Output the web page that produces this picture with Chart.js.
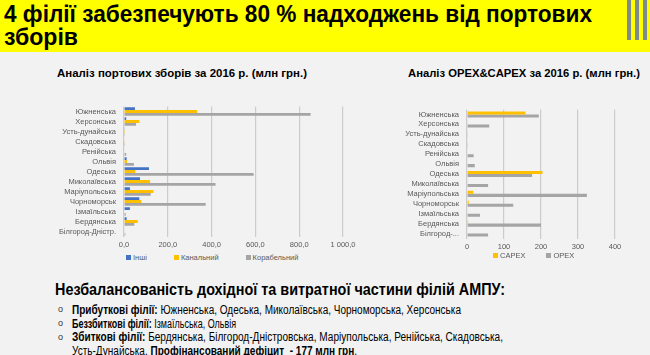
<!DOCTYPE html>
<html>
<head>
<meta charset="utf-8">
<script src="https://cdn.jsdelivr.net/npm/chart.js@4.4.1/dist/chart.umd.min.js"></script>
<style>
  body {
    margin: 0;
    width: 650px;
    height: 355px;
    background: #f2f2f2;
    overflow: hidden;
    position: relative;
    font-family: "Liberation Sans", Arial, sans-serif;
  }
  .fit { position: absolute; white-space: nowrap; transform-origin: 0 0; }
  #header {
    position: absolute; left: 0; top: 0; width: 650px; height: 52px;
    background: #ffff00;
  }
  .head { font-size: 23px; font-weight: bold; line-height: 23px; color: #000; }
  .stripe { position: absolute; top: 0; width: 4px; height: 40px; background: #7f8a8c; }
  .chart-title { font-size: 11.5px; font-weight: bold; color: #000; line-height: 14px; }
  .box { position: absolute; }
  .legend {
    position: absolute; font-size: 7.5px; color: #595959; white-space: nowrap;
  }
  .legend span.sq { display: inline-block; width: 5px; height: 5px; margin-right: 2px; vertical-align: 0; }
  .sum-head { font-size: 16px; font-weight: bold; line-height: 18px; color: #000; }
  .sum-line { font-size: 12px; line-height: 14px; color: #000; }
  .bullet { position: absolute; left: 58px; font-size: 9px; color: #333; line-height: 14px; }
</style>
</head>
<body>
<div id="header">
  <div class="fit head" style="left:4px; top:3px" data-w="588">4 філії забезпечують 80 % надходжень від портових</div>
  <div class="fit head" style="left:4px; top:26px" data-w="74">зборів</div>
  <div class="stripe" style="left:627px"></div>
  <div class="stripe" style="left:635px"></div>
  <div class="stripe" style="left:643px"></div>
</div>

<div class="fit chart-title" style="left:57px; top:66px" data-w="250">Аналіз портових зборів за 2016 р. (млн грн.)</div>
<div class="fit chart-title" style="left:408px; top:66px" data-w="232">Аналіз OPEX&amp;CAPEX за 2016 р. (млн грн.)</div>

<div class="box" style="left:0; top:93.5px; width:360px; height:158.5px"><canvas id="feesChart"></canvas></div>
<div class="box" style="left:400px; top:96.5px; width:250px; height:157.5px"><canvas id="costChart"></canvas></div>
<div class="legend" id="feesLegend" style="left:126px; top:253px"></div>
<div class="legend" id="costLegend" style="left:493px; top:251px"></div>

<div class="fit sum-head" style="left:55px; top:281px" data-w="450">Незбалансованість дохідної та витратної частини філій АМПУ:</div>
<div class="bullet" style="top:302px">o</div>
<div class="bullet" style="top:316px">o</div>
<div class="bullet" style="top:330px">o</div>
<div class="fit sum-line" style="left:72px; top:303px" data-w="389"><b>Прибуткові філії:</b> Южненська, Одеська, Миколаївська, Чорноморська, Херсонська</div>
<div class="fit sum-line" style="left:72px; top:316.5px" data-w="164"><b>Беззбиткові філії:</b> Ізмаїльська, Ольвія</div>
<div class="fit sum-line" style="left:72px; top:330px" data-w="431"><b>Збиткові філії:</b> Бердянська, Білгород-Дністровська, Маріупольська, Ренійська, Скадовська,</div>
<div class="fit sum-line" style="left:72px; top:343.5px" data-w="285">Усть-Дунайська. <b>Профінансований дефіцит&nbsp; - 177 млн грн</b>.</div>

<script>
// Дані: портові збори 2016 (млн грн)
const feeBranches = ["Южненська", "Херсонська", "Усть-дунайська", "Скадовська", "Ренійська", "Ольвія", "Одеська", "Миколаївська", "Маріупольська", "Чорноморськ", "Ізмаїльська", "Бердянська", "Білгород-Дністр."];
const feeOther = [50, 10, 2, 0, 0, 12, 114, 73, 27, 70, 27, 12, 0];
const feeCanal = [334, 70, 1, 2, 0, 14, 52, 119, 134, 79, 0, 63, 3];
const feeShip = [852, 55, 1, 1, 10, 45, 592, 418, 122, 373, 8, 47, 6];
const feeTicks = ["0,0", "200,0", "400,0", "600,0", "800,0", "1 000,0"];

// Дані: OPEX & CAPEX 2016 (млн грн)
const costBranches = ["Южненська", "Херсонська", "Усть-дунайська", "Скадовська", "Ренійська", "Ольвія", "Одеська", "Миколаївська", "Маріупольська", "Чорноморськ", "Ізмаїльська", "Бердянська", "Білгород-..."];
const capex = [158, 2, 1, 2, 0, 0, 204, 2, 17, 5, 0, 3, 0];
const opex = [194, 60, 1, 1, 18, 21, 176, 57, 324, 125, 35, 200, 57];
const costTicks = ["0", "100", "200", "300", "400"];

const BLUE = "#4472c4";
const YELLOW = "#ffc000";
const GREY = "#a5a5a5";
const TEXT = "#595959";
const GRID = "#cccccc";
const FONT = { family: "'Liberation Sans', Arial, sans-serif", size: 7.5 };

// Стискаємо текст по ширині (замість вузького шрифту)
document.querySelectorAll(".fit").forEach((el) => {
  const w = el.getBoundingClientRect().width;
  el.style.transform = `scaleX(${el.dataset.w / w})`;
});

// Опції для горизонтальних стовпчиків
const buildOptions = (max, step, tickLabels, axisWidth, padRight) => ({
  indexAxis: "y",
  responsive: true,
  maintainAspectRatio: false,
  animation: false,
  layout: { padding: { top: 0, right: padRight, left: 0, bottom: 0 } },
  plugins: { legend: { display: false }, tooltip: { enabled: false } },
  scales: {
    x: {
      min: 0,
      max: max,
      ticks: {
        stepSize: step,
        color: TEXT,
        font: FONT,
        padding: 4,
        maxRotation: 0,
        callback: (value, i) => tickLabels[i],
      },
      grid: { color: GRID, lineWidth: 1.2, drawTicks: false },
      border: { display: false },
      afterFit: (scale) => { scale.height = 16; },
    },
    y: {
      ticks: { color: TEXT, font: FONT, padding: 8, autoSkip: false },
      grid: { display: false, drawTicks: false },
      border: { display: false },
      afterFit: (scale) => { scale.width = axisWidth; },
    },
  },
});

const feesDatasets = [
  { label: "Інші", data: feeOther, backgroundColor: BLUE },
  { label: "Канальний", data: feeCanal, backgroundColor: YELLOW },
  { label: "Корабельний", data: feeShip, backgroundColor: GREY },
].map((d) => ({ ...d, categoryPercentage: 0.85, barPercentage: 1.0 }));

const costDatasets = [
  { label: "CAPEX", data: capex, backgroundColor: YELLOW },
  { label: "OPEX", data: opex, backgroundColor: GREY },
].map((d) => ({ ...d, categoryPercentage: 0.62, barPercentage: 1.0 }));

new Chart(document.getElementById("feesChart"), {
  type: "bar",
  data: { labels: feeBranches, datasets: feesDatasets },
  options: buildOptions(1000, 200, feeTicks, 124, 17),
});

new Chart(document.getElementById("costChart"), {
  type: "bar",
  data: { labels: costBranches, datasets: costDatasets },
  options: buildOptions(400, 100, costTicks, 67, 35),
});

// Легенди
const renderLegend = (id, datasets, gap) => {
  document.getElementById(id).innerHTML = datasets
    .map(
      (d, i) =>
        `<span style="margin-left:${i ? gap : 0}px"><span class="sq" style="background:${d.backgroundColor}"></span>${d.label}</span>`
    )
    .join("");
};
renderLegend("feesLegend", feesDatasets, 27);
renderLegend("costLegend", costDatasets, 21);
</script>
</body>
</html>
